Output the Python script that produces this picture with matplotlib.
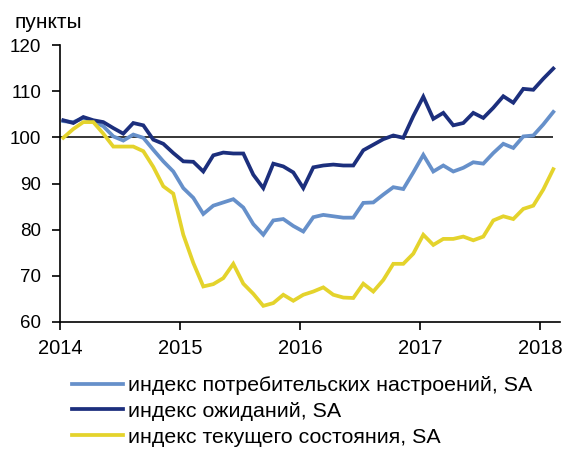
import matplotlib
matplotlib.use("Agg")
import matplotlib.pyplot as plt
import numpy as np

plt.rcParams['font.family'] = ['Liberation Sans', 'DejaVu Sans']

years = [2014, 2015, 2016, 2017, 2018]
y_ticks = [60, 70, 80, 90, 100, 110, 120]

consumer = [103.5, 103.3, 104.2, 103.5, 102.4, 100.2, 99.3, 100.6, 99.9, 97.3, 94.8, 92.6,
            89.0, 86.9, 83.4, 85.2, 85.9, 86.6, 84.8, 81.2, 78.9, 82.0, 82.3, 80.8,
            79.6, 82.7, 83.2, 82.9, 82.6, 82.6, 85.8, 85.9, 87.6, 89.2, 88.8, 92.4,
            96.2, 92.6, 93.9, 92.6, 93.4, 94.6, 94.3, 96.6, 98.6, 97.7, 100.2, 100.4,
            102.8, 105.5]
expect = [103.7, 103.1, 104.4, 103.7, 103.3, 102.0, 100.8, 103.1, 102.6, 99.5, 98.6, 96.6,
          94.8, 94.7, 92.6, 96.1, 96.7, 96.5, 96.5, 91.9, 89.0, 94.3, 93.7, 92.4,
          89.0, 93.5, 93.9, 94.1, 93.9, 93.9, 97.2, 98.4, 99.6, 100.4, 99.9, 104.6,
          108.8, 104.0, 105.3, 102.6, 103.1, 105.3, 104.2, 106.4, 108.9, 107.5, 110.5, 110.3,
          112.7, 114.9]
current = [99.9, 101.8, 103.3, 103.3, 100.8, 98.0, 98.0, 98.0, 97.0, 93.6, 89.4, 87.8,
           78.9, 72.8, 67.7, 68.2, 69.5, 72.6, 68.3, 66.1, 63.5, 64.1, 65.9, 64.6,
           65.9, 66.6, 67.5, 65.9, 65.3, 65.2, 68.3, 66.6, 69.1, 72.6, 72.6, 74.8,
           78.9, 76.7, 78.0, 78.0, 78.5, 77.7, 78.5, 82.0, 82.9, 82.3, 84.5, 85.2,
           88.7, 93.1]

labels = ['индекс потребительских настроений, SA',
          'индекс ожиданий, SA',
          'индекс текущего состояния, SA']
colors = ['#6690CA', '#1C2F7D', '#E4D32C']

months = np.arange(len(consumer)) + 0.33  # monthly positions (months since Jan 2014)

fig = plt.figure(figsize=(5.71, 4.5), dpi=100)
ax = fig.add_axes([60/571, 1-322/450, 500/571, 277/450])

ax.hlines(100, 0, months[-1], color='black', lw=1.1, zorder=1)
for vals, c, lab in zip([consumer, expect, current], colors, labels):
    ax.plot(months, vals, color=c, lw=2.7, label=lab, solid_joinstyle='miter', zorder=2)

ax.set_xlim(0, 50)
ax.set_ylim(60, 120)
ax.set_yticks(y_ticks)
ax.set_xticks([(y - 2014) * 12 for y in years])
ax.set_xticklabels([str(y) for y in years])
for s in ['top', 'right']:
    ax.spines[s].set_visible(False)
for s in ['left', 'bottom']:
    ax.spines[s].set_linewidth(1.2)
ax.tick_params(axis='both', width=1.2, length=5.5, direction='out')
ax.tick_params(axis='x', labelsize=14.5, pad=7)
ax.tick_params(axis='y', labelsize=13.5, pad=8)

fig.text(14/571, 1-22/450, 'пункты', fontsize=15, ha='left', va='center')

fig.legend(loc='upper left', bbox_to_anchor=(72/571, 1-376/450), frameon=False,
           fontsize=15.4, handlelength=2.4, handletextpad=0.23, labelspacing=0.32,
           borderaxespad=0, borderpad=0)

fig.savefig('out.png', dpi=100)
